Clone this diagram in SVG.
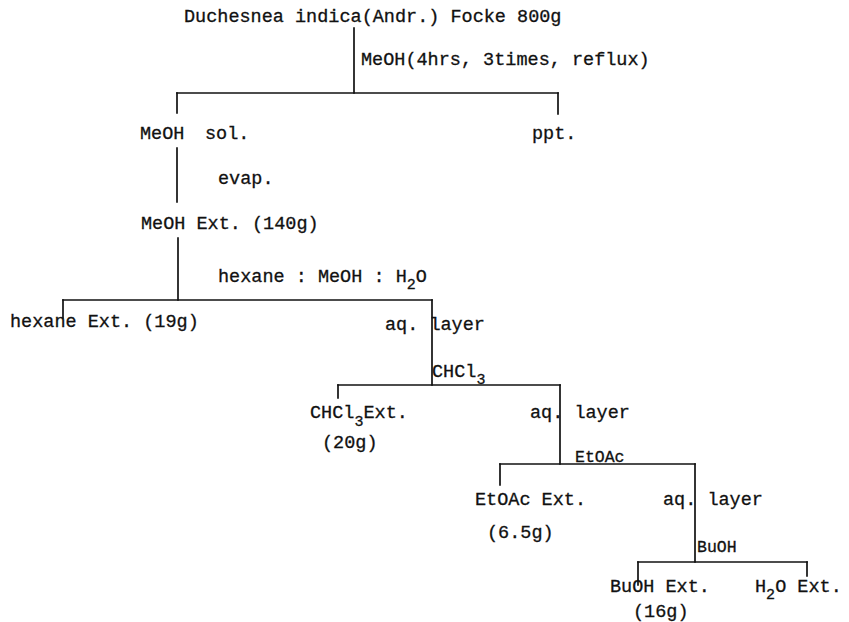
<svg xmlns="http://www.w3.org/2000/svg" width="849" height="622" viewBox="0 0 849 622">
<style>
text{font-family:"Liberation Mono","Courier New",monospace;font-size:18.5px;fill:#111;stroke:#111;stroke-width:0.3}
text.sm{font-size:16.5px}
.sub{font-size:15px}
#connectors line{stroke:#111;stroke-width:1.7;stroke-linecap:square}
</style>
<rect width="849" height="622" fill="#fff"/>
<g id="connectors">
<line x1="354" y1="28" x2="354" y2="93"/>
<line x1="177" y1="93" x2="558" y2="93"/>
<line x1="177" y1="93" x2="177" y2="113"/>
<line x1="558" y1="93" x2="558" y2="114"/>
<line x1="177" y1="148" x2="177" y2="202"/>
<line x1="178" y1="238" x2="178" y2="300"/>
<line x1="63" y1="300" x2="432" y2="300"/>
<line x1="63" y1="300" x2="63" y2="318"/>
<line x1="432" y1="300" x2="432" y2="385"/>
<line x1="338" y1="385" x2="560" y2="385"/>
<line x1="338" y1="385" x2="338" y2="398"/>
<line x1="560" y1="385" x2="560" y2="464"/>
<line x1="500" y1="464" x2="695" y2="464"/>
<line x1="500" y1="464" x2="500" y2="485"/>
<line x1="695" y1="464" x2="695" y2="562"/>
<line x1="638" y1="562" x2="807" y2="562"/>
<line x1="638" y1="562" x2="638" y2="585"/>
<line x1="807" y1="562" x2="807" y2="576"/>
</g>
<g id="start"><text x="184" y="22">Duchesnea indica(Andr.) Focke 800g</text></g>
<g id="step-meoh"><text x="361" y="65">MeOH(4hrs, 3times, reflux)</text></g>
<g id="meoh-sol"><text x="140" y="139">MeOH</text><text x="205" y="139">sol.</text></g>
<g id="ppt"><text x="532" y="139">ppt.</text></g>
<g id="step-evap"><text x="218" y="184">evap.</text></g>
<g id="meoh-ext"><text x="141" y="229">MeOH Ext. (140g)</text></g>
<g id="step-partition"><text x="218" y="282">hexane : MeOH : H<tspan class="sub" dy="7">2</tspan><tspan dy="-7">O</tspan></text></g>
<g id="hexane-ext"><text x="10" y="327">hexane Ext. (19g)</text></g>
<g id="aq1"><text x="385" y="330">aq. layer</text></g>
<g id="step-chcl3"><text x="432" y="377">CHCl<tspan class="sub" dy="7">3</tspan></text></g>
<g id="chcl3-ext"><text x="310" y="418">CHCl<tspan class="sub" dy="8">3</tspan><tspan dy="-8">Ext.</tspan></text><text x="322" y="448">(20g)</text></g>
<g id="aq2"><text x="530" y="418">aq. layer</text></g>
<g id="step-etoac"><text class="sm" x="575" y="462">EtOAc</text></g>
<g id="etoac-ext"><text x="475" y="505">EtOAc Ext.</text><text x="487" y="538">(6.5g)</text></g>
<g id="aq3"><text x="663" y="505">aq. layer</text></g>
<g id="step-buoh"><text class="sm" x="697" y="552">BuOH</text></g>
<g id="buoh-ext"><text x="610" y="592">BuOH Ext.</text><text x="633" y="617">(16g)</text></g>
<g id="h2o-ext"><text x="755" y="592">H<tspan class="sub" dy="7">2</tspan><tspan dy="-7">O Ext.</tspan></text></g>
</svg>
